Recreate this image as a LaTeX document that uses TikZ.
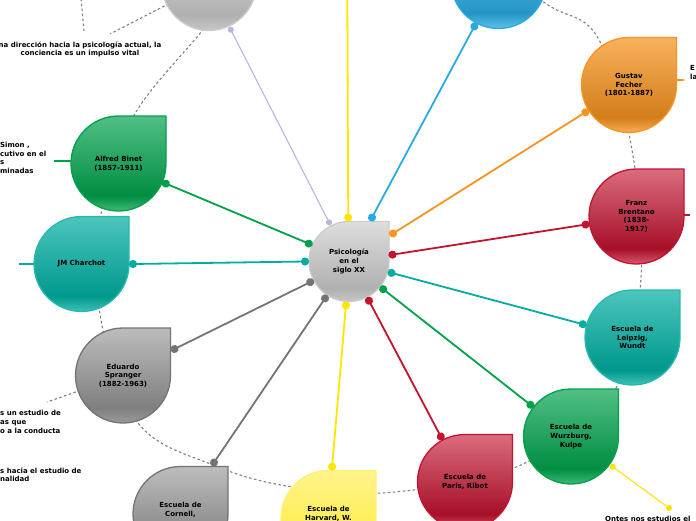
\documentclass[tikz,border=0pt]{standalone}
\usepackage{fontspec}
\setmainfont{DejaVu Sans}
\usetikzlibrary{arrows.meta, backgrounds}

\definecolor{lavend}{HTML}{B8B6DE}
\definecolor{mapYel}{HTML}{FFE500}
\definecolor{mapSky}{HTML}{29ABE2}
\definecolor{mapOrng}{HTML}{F7931E}
\definecolor{mapCrim}{HTML}{C4122F}
\definecolor{mapTeal}{HTML}{00ADA0}
\definecolor{mapGrn}{HTML}{00A14B}
\definecolor{mapGry}{HTML}{787373}
\definecolor{ringGry}{HTML}{7F7F7F}
\colorlet{dropL}{white}
\colorlet{dropD}{black}
\colorlet{dropM}{gray}

% light at the top, darkest near the bottom, a lighter rim at the bottom
\pgfdeclareverticalshading[dropL,dropD,dropM]{dropshade}{100bp}{color(0bp)=(dropM); color(25bp)=(dropM); color(33bp)=(dropD); color(75bp)=(dropL); color(100bp)=(dropL)}

\tikzstyle{drop} = [circle, minimum size=95pt, inner sep=0pt, outer sep=4pt, align=center, font=\bfseries\fontsize{7}{8.7}\selectfont]
\tikzstyle{note} = [inner sep=0pt, align=left, font=\bfseries\fontsize{7}{8.7}\selectfont]
\tikzstyle{ring} = [draw=ringGry, line width=1.1pt, dash pattern=on 2.5pt off 2.5pt]
\tikzset{
	link/.style = {line width=1.8pt, {Circle[length=8pt]}-{Circle[length=8pt]}, shorten <=-4pt, shorten >=-4pt},
	thinlink/.style = {line width=1.1pt, {Circle[length=6pt]}-{Circle[length=6pt]}, shorten <=-3pt, shorten >=-3pt},
	stub/.style = {line width=1.3pt},
	dropfill/.style n args = {4}{draw=#1, line width=1.3pt, shading=dropshade, shade,
		/utils/exec={\colorlet{dropL}{#2}\colorlet{dropD}{#3}\colorlet{dropM}{#4}}},
	% fillings of the drops
	lgrayfill/.style = {dropfill={black!20}{black!13}{black!31}{black!22}},
	gryfill/.style = {dropfill={mapGry}{black!26}{black!50}{black!40}},
	grnfill/.style = {dropfill={mapGrn}{mapGrn!68!white}{mapGrn!88!black}{mapGrn!75!white}},
	tealfill/.style = {dropfill={mapTeal!85!white}{mapTeal!70!white}{mapTeal!88!black}{mapTeal!75!white}},
	crimfill/.style = {dropfill={mapCrim}{mapCrim!62!white}{mapCrim!85!black}{mapCrim!70!white}},
	orngfill/.style = {dropfill={mapOrng}{mapOrng!72!white}{mapOrng!85!black}{mapOrng!75!white}},
	bluefill/.style = {dropfill={mapSky}{mapSky!72!white}{mapSky!88!black}{mapSky!75!white}},
	yelfill/.style = {dropfill={mapYel!55!white}{mapYel!45!white}{mapYel!75!white}{mapYel!55!white}},
}

\begin{document}
\begin{tikzpicture}[x=1pt, y=-1pt]
\useasboundingbox (0,0) rectangle (696,520);

% Placement of map nodes
\node (psi) [drop, minimum size=80pt] at (349,261.5) {Psicología\\en el\\siglo XX};
\node (graytop) [drop] at (209,-17) {};
\node (blue) [drop] at (498.5,-19) {};
\coordinate (yellowtop) at (347,-60);
\node (gustav) [drop] at (629,85) {Gustav\\Fecher\\(1801-1887)};
\node (franz) [drop] at (636.5,216.5) {Franz\\Brentano\\(1838-\\1917)};
\node (leipzig) [drop] at (632.5,337.5) {Escuela de\\Leipzig,\\Wundt};
\node (wurz) [drop] at (571,436.5) {Escuela de\\Wurzburg,\\Kulpe};
\node (paris) [drop] at (465,482) {Escuela de\\Paris, Ribot};
\node (harvard) [drop] at (328.5,518) {Escuela de\\Harvard, W.\\\mbox{}};
\node (cornell) [drop] at (180.5,514) {Escuela de\\Cornell,\\\mbox{}};
\node (spranger) [drop] at (123,375.5) {Eduardo\\Spranger\\(1882-1963)};
\node (charchot) [drop] at (81.5,264) {JM Charchot};
\node (binet) [drop] at (118.5,163.5) {Alfred Binet\\(1857-1911)};

% Notes round the map
\node (note1) [note, align=center] at (80,49.5) {na dirección hacia la psicología actual, la\\conciencia es un impulso vital};
\node (note2) [note, anchor=west] at (0,158) {Simon ,\\cutivo en el\\s\\minadas};
\node (note3) [note, anchor=west] at (0,422) {s un estudio de\\as que\\o a la conducta};
\node (note4) [note, anchor=west] at (0,475) {s hacia el estudio de\\nalidad};
\node (note5) [note, anchor=west] at (690,72.5) {E\\la};
\node (note6) [note, anchor=north west] at (605,515.5) {Ontes nos estudios el};

\coordinate (n1a) at (110,34);
\coordinate (n1b) at (84,31);
\coordinate (n1c) at (81,-2);
\coordinate (binetend) at (54,161);
\coordinate (charend) at (19,264);
\coordinate (sprend) at (47,402);
\coordinate (gusend) at (684,80);
\coordinate (franzend) at (690,215);
\coordinate (wurzend) at (669,508);

\begin{scope}[on background layer]
% outer ring
\draw[ring] plot[smooth cycle, tension=0.6] coordinates {(206,26) (133,117) (101,214) (101,320) (138,423) (213,465) (293,487) (395,492) (523,464) (616,388) (641,277) (632,150) (598,38) (548,5) (470,-45) (350,-60) (250,-35)};
\draw[ring] (graytop.center) -- (n1a);
\draw[ring] (n1b) -- (n1c);
\draw[ring] (spranger.center) -- (sprend);
\draw[stub, mapGrn] (binetend -| binet.center) -- (binetend);
\draw[stub, mapTeal] (charend -| charchot.center) -- (charend);
\draw[stub, mapOrng] (gusend -| gustav.center) -- (gusend);
\draw[stub, mapCrim] (franzend -| franz.center) -- (franzend);
% drops
\foreach \n/\st/\rad in {graytop/lgrayfill/47.5pt, blue/bluefill/47.5pt, gustav/orngfill/47.5pt, franz/crimfill/47.5pt, leipzig/tealfill/47.5pt, wurz/grnfill/47.5pt, paris/crimfill/47.5pt, harvard/yelfill/47.5pt, cornell/gryfill/47.5pt, spranger/gryfill/47.5pt, charchot/tealfill/47.5pt, binet/grnfill/47.5pt, psi/lgrayfill/40pt}
	\path[\st] ([xshift=\rad, yshift=\rad]\n.center) -- ([xshift=\rad]\n.center) arc[start angle=0, end angle=-270, radius=\rad] -- cycle;
\end{scope}

% Drawing of Lines
\draw [thinlink, lavend] (psi.117) -- (graytop.-65);
\draw [link, mapYel] (psi.91) -- (yellowtop);
\draw [link, mapSky] ([xshift=23pt]psi.north) -- (blue.-118);
\draw [link, mapOrng] ([yshift=28pt]psi.east) -- (gustav.212);
\draw [link, mapCrim] (psi.9) -- (franz.189);
\draw [link, mapTeal] (psi.-15) -- (leipzig.165);
\draw [link, mapGrn] (psi.-39) -- (wurz.142);
\draw [link, mapCrim] (psi.-63) -- (paris.118);
\draw [link, mapYel] (psi.-94) -- (harvard.86);
\draw [link, mapGry] (psi.-123) -- ([xshift=33.5pt]cornell.north);
\draw [link, mapGry] (psi.-152) -- ([yshift=26.5pt]spranger.east);
\draw [link, mapTeal] (psi.180) -- (charchot.east);
\draw [link, mapGrn] (psi.156) -- (binet.-23);
\draw [thinlink, mapYel] (wurz.-36) -- (wurzend);

\end{tikzpicture}
\end{document}
